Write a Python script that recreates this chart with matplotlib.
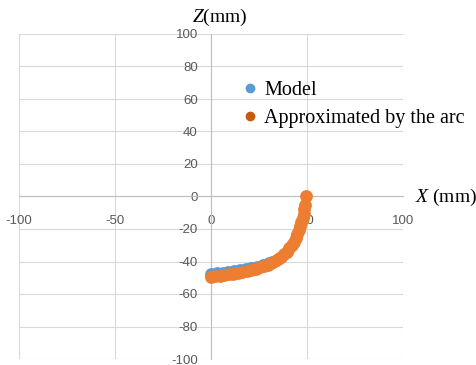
"""Model profile vs. arc approximation, Excel-style scatter with axes through the origin."""
import matplotlib
matplotlib.use("Agg")
import matplotlib.pyplot as plt
from matplotlib.lines import Line2D

# model profile (mostly hidden beneath the arc points)
model_x = [0, 3, 6, 9, 12, 15, 18, 21, 24, 27, 30, 32]
model_z = [-47.5, -47.2, -46.8, -46.4, -45.9, -45.3, -44.6, -43.9, -43.1, -42.2, -41.2, -40.5]

# points approximated by the arc
arc_x = [49.5, 49.0, 48.6, 48.2, 47.7, 47.1, 46.5, 45.8, 45.0, 44.1, 43.1, 42.0,
         40.8, 39.5, 38.1, 36.6, 35.0, 33.3, 31.5, 29.6, 27.6, 25.5, 23.3, 21.0,
         18.7, 16.4, 14.0, 11.6, 9.2, 6.8, 4.5, 2.2, 0.0]
arc_z = [0.0, -5.0, -8.0, -10.6, -13.2, -15.8, -18.3, -20.8, -23.2, -25.6, -27.8, -30.0,
         -32.0, -33.9, -35.6, -37.1, -38.5, -39.8, -40.9, -41.9, -42.8, -43.6, -44.4, -45.1,
         -45.8, -46.4, -46.9, -47.4, -47.9, -48.3, -48.7, -49.0, -49.3]

x_ticks = [-100, -50, 0, 50, 100]
z_ticks = [-100, -80, -60, -40, -20, 0, 20, 40, 60, 80, 100]

BLUE = "#5B9BD5"
ORANGE = "#ED7D31"
ORANGE_LEGEND = "#C55A11"
GRID = "#D9D9D9"
TICK = "#595959"

plt.rcParams["axes.unicode_minus"] = False
plt.rcParams["mathtext.fontset"] = "custom"
plt.rcParams["mathtext.it"] = "Liberation Serif:italic"
plt.rcParams["mathtext.rm"] = "Liberation Serif"

fig = plt.figure(figsize=(4.76, 3.65), dpi=100)
ax = fig.add_axes([19 / 476, 1 - 359 / 365, 384 / 476, 325 / 365])

ax.set_xlim(-100, 100)
ax.set_ylim(-100, 100)
ax.set_xticks(x_ticks)
ax.set_yticks(z_ticks)
ax.grid(True, color=GRID, linewidth=0.8)
ax.set_axisbelow(True)

for side in ("top", "right"):
    ax.spines[side].set_visible(False)
for side in ("left", "bottom"):
    ax.spines[side].set_position("zero")
    ax.spines[side].set_color("#BFBFBF")
    ax.spines[side].set_linewidth(0.8)

ax.tick_params(axis="both", length=0, labelcolor=TICK, labelsize=9.5)
ax.tick_params(axis="y", pad=9.5)
ax.tick_params(axis="x", pad=13.5)
for lab in ax.get_xticklabels() + ax.get_yticklabels():
    lab.set_fontfamily("Liberation Sans")

ax.scatter(model_x, model_z, s=85, color=BLUE, zorder=3, clip_on=False, linewidths=0)
ax.scatter(arc_x, arc_z, s=85, color=ORANGE, zorder=4, clip_on=False, linewidths=0)

handles = [
    Line2D([], [], marker="o", linestyle="", markersize=6, color=BLUE),
    Line2D([], [], marker="o", linestyle="", markersize=6, color=ORANGE_LEGEND),
]
ax.legend(handles, ["Model", "Approximated by the arc"], loc="upper left",
          bbox_to_anchor=((230 - 19) / 384, (359 - 73) / 325), frameon=False,
          prop={"family": "Liberation Serif", "size": 14.5}, handletextpad=0.1,
          labelspacing=0.45, handlelength=1.2, borderaxespad=0, borderpad=0.4)

fig.text(220 / 476, 1 - 17 / 365, r"$Z$(mm)", ha="center", va="center",
         fontsize=14, fontfamily="Liberation Serif")
fig.text(415 / 476, 1 - 197 / 365, r"$X$ (mm)", ha="left", va="center",
         fontsize=14, fontfamily="Liberation Serif")

fig.savefig("out.png", dpi=100)
